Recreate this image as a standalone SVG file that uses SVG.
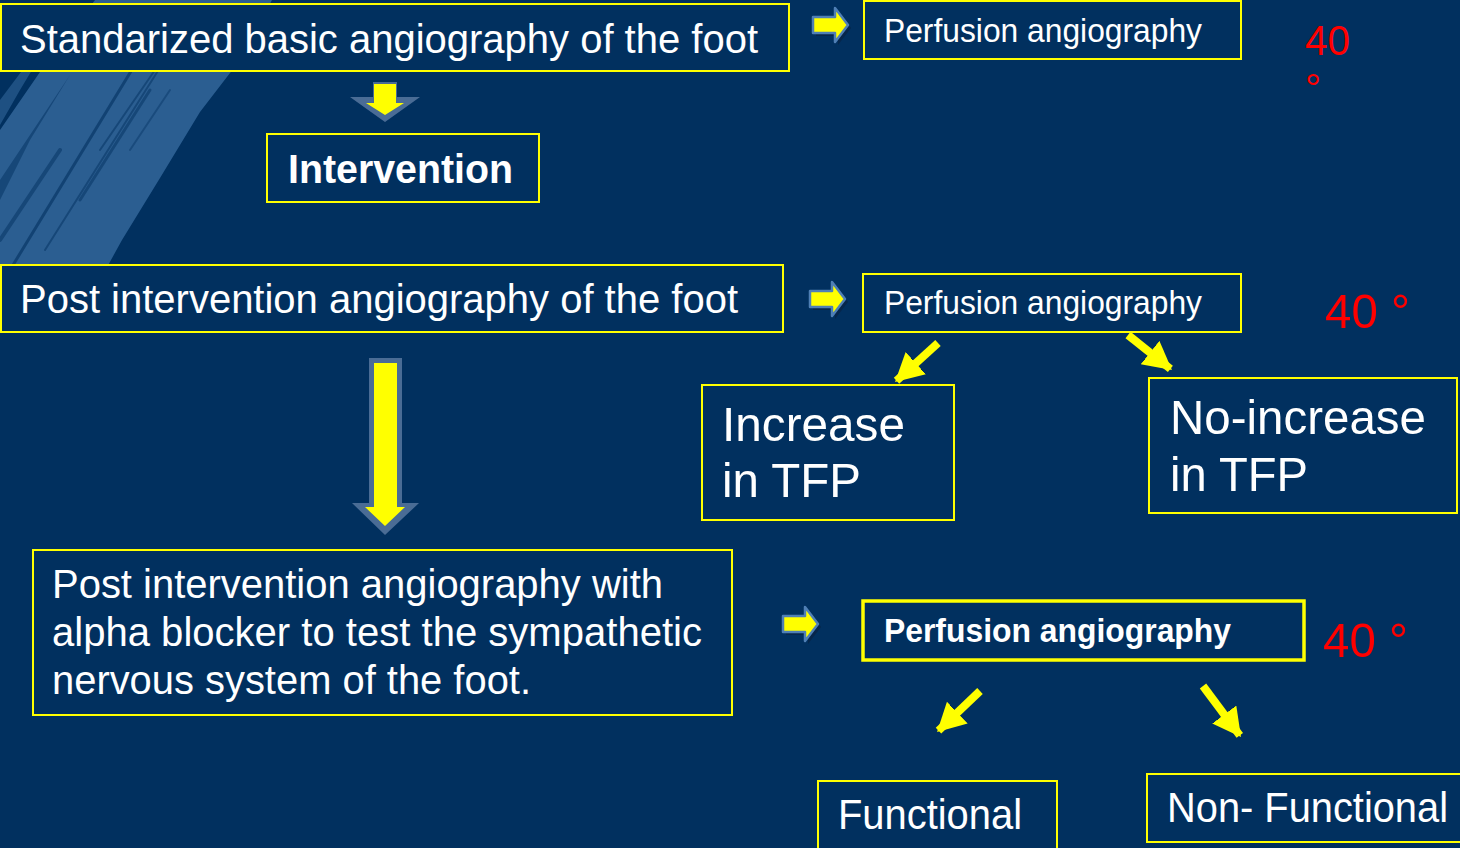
<svg xmlns="http://www.w3.org/2000/svg" width="1460" height="848" viewBox="0 0 1460 848">
<style>
.box{fill:#01305f;stroke:#ffff00;stroke-width:2}
.boxb{fill:#01305f;stroke:#ffff00;stroke-width:3.5}
.t{font-family:"Liberation Sans",Arial,sans-serif;fill:#ffffff}
.b{font-weight:bold}
.red{font-family:"Liberation Sans",Arial,sans-serif;fill:#ff0000}
.conn{stroke:#ffff00;stroke-width:8;fill:none}
.streak{stroke:#01305f;fill:none;stroke-linecap:round}
</style>
<defs>
<marker id="ah" markerUnits="userSpaceOnUse" markerWidth="30" markerHeight="32" refX="26" refY="15" orient="auto">
<path d="M0,0 L28,15 L0,30 Z" fill="#ffff00"/>
</marker>
<g id="rarrow">
<path d="M3,12 L25,12 L25,3 L38,20 L25,37 L25,28 L3,28 Z" fill="#0a1f3d" opacity="0.6"/>
<path d="M0,9 L22,9 L22,0 L35,17 L22,34 L22,25 L0,25 Z" fill="#ffff00" stroke="#4f7fb5" stroke-width="2.5" stroke-linejoin="round"/>
</g>
</defs>
<rect width="1460" height="848" fill="#01305f"/>
<g id="brush">
<path d="M95,0 L272,0 L240,60 L200,112 L160,178 L122,240 L100,280 L0,280 L0,130 L40,72 Z" fill="#2b5e91"/>
<path d="M0,100 L30,60 L50,40 L20,90 L0,125 Z" fill="#2b5e91" opacity="0.7"/>
<path d="M0,180 L40,120 L70,75 L30,140 L0,200 Z" fill="#01305f" opacity="0.5"/>
<line class="streak" x1="10" y1="270" x2="150" y2="40" stroke-width="3" opacity="0.6"/>
<line class="streak" x1="45" y1="250" x2="190" y2="20" stroke-width="2" opacity="0.5"/>
<line class="streak" x1="80" y1="200" x2="150" y2="90" stroke-width="3" opacity="0.5"/>
<line class="streak" x1="100" y1="150" x2="155" y2="70" stroke-width="2" opacity="0.5"/>
<line class="streak" x1="0" y1="240" x2="60" y2="150" stroke-width="4" opacity="0.5"/>
<line class="streak" x1="130" y1="150" x2="170" y2="90" stroke-width="2" opacity="0.4"/>
</g>
<g id="connectors">
<g id="down1">
<path d="M350,97 L373,97 L373,82 L397,82 L397,97 L420,97 L385,122 Z" fill="#4a6c95"/>
<path d="M366,103 L374,103 L374,84 L396,84 L396,103 L404,103 L385,115 Z" fill="#ffff00"/>
</g>
<g id="down2">
<path d="M369,358 L402,358 L402,503 L419,503 L385,535 L352,503 L369,503 Z" fill="#4a6c95"/>
<path d="M374,363 L397,363 L397,507 L405,507 L385,526 L365,507 L374,507 Z" fill="#ffff00"/>
</g>
<use href="#rarrow" x="813" y="8"/>
<use href="#rarrow" x="810" y="282"/>
<use href="#rarrow" x="783" y="607"/>
<line class="conn" x1="938" y1="343" x2="896.5" y2="380.7" marker-end="url(#ah)"/>
<line class="conn" x1="1128" y1="335" x2="1170.4" y2="368.8" marker-end="url(#ah)"/>
<line class="conn" x1="980" y1="691" x2="938.5" y2="730.6" marker-end="url(#ah)"/>
<line class="conn" x1="1203" y1="686" x2="1239.8" y2="735.4" marker-end="url(#ah)"/>
</g>
<g id="n1">
<rect class="box" x="1" y="4" width="788" height="67"/>
<text class="t" x="20" y="53" font-size="41" textLength="738" lengthAdjust="spacingAndGlyphs">Standarized basic angiography of the foot</text>
</g>
<g id="n2">
<rect class="box" x="267" y="134" width="272" height="68"/>
<text class="t b" x="288" y="183" font-size="41" textLength="225" lengthAdjust="spacingAndGlyphs">Intervention</text>
</g>
<g id="n3">
<rect class="box" x="1" y="265" width="782" height="67"/>
<text class="t" x="20" y="313" font-size="41" textLength="718" lengthAdjust="spacingAndGlyphs">Post intervention angiography of the foot</text>
</g>
<g id="n4">
<rect class="box" x="33" y="550" width="699" height="165"/>
<text class="t" x="52" y="598" font-size="41" textLength="611" lengthAdjust="spacingAndGlyphs">Post intervention angiography with</text>
<text class="t" x="52" y="646" font-size="41" textLength="650" lengthAdjust="spacingAndGlyphs">alpha blocker to test the sympathetic</text>
<text class="t" x="52" y="694" font-size="41" textLength="479" lengthAdjust="spacingAndGlyphs">nervous system of the foot.</text>
</g>
<g id="p1">
<rect class="box" x="864" y="1" width="377" height="58"/>
<text class="t" x="884" y="42" font-size="34" textLength="318" lengthAdjust="spacingAndGlyphs">Perfusion angiography</text>
</g>
<g id="p2">
<rect class="box" x="863" y="274" width="378" height="58"/>
<text class="t" x="884" y="314" font-size="34" textLength="318" lengthAdjust="spacingAndGlyphs">Perfusion angiography</text>
</g>
<g id="p3">
<rect class="boxb" x="863" y="601" width="441" height="59"/>
<text class="t b" x="884" y="642" font-size="34" textLength="347" lengthAdjust="spacingAndGlyphs">Perfusion angiography</text>
</g>
<g id="inc">
<rect class="box" x="702" y="385" width="252" height="135"/>
<text class="t" x="722" y="441" font-size="49" textLength="183" lengthAdjust="spacingAndGlyphs">Increase</text>
<text class="t" x="722" y="497" font-size="49" textLength="139" lengthAdjust="spacingAndGlyphs">in TFP</text>
</g>
<g id="noinc">
<rect class="box" x="1149" y="378" width="308" height="135"/>
<text class="t" x="1170" y="434" font-size="49" textLength="256" lengthAdjust="spacingAndGlyphs">No-increase</text>
<text class="t" x="1170" y="491" font-size="49" textLength="138" lengthAdjust="spacingAndGlyphs">in TFP</text>
</g>
<g id="func">
<rect class="box" x="818" y="781" width="239" height="72"/>
<text class="t" x="838" y="829" font-size="43" textLength="184" lengthAdjust="spacingAndGlyphs">Functional</text>
</g>
<g id="nonfunc">
<rect class="box" x="1147" y="774" width="318" height="68"/>
<text class="t" x="1167" y="822" font-size="43" textLength="281" lengthAdjust="spacingAndGlyphs">Non- Functional</text>
</g>
<g id="deg">
<text class="red" x="1305" y="55" font-size="42" textLength="45" lengthAdjust="spacingAndGlyphs">40</text>
<text class="red" x="1305" y="102" font-size="40">°</text>
<text class="red" x="1325" y="328" font-size="49" textLength="85" lengthAdjust="spacingAndGlyphs">40 °</text>
<text class="red" x="1323" y="657" font-size="49" textLength="85" lengthAdjust="spacingAndGlyphs">40 °</text>
</g>
</svg>
